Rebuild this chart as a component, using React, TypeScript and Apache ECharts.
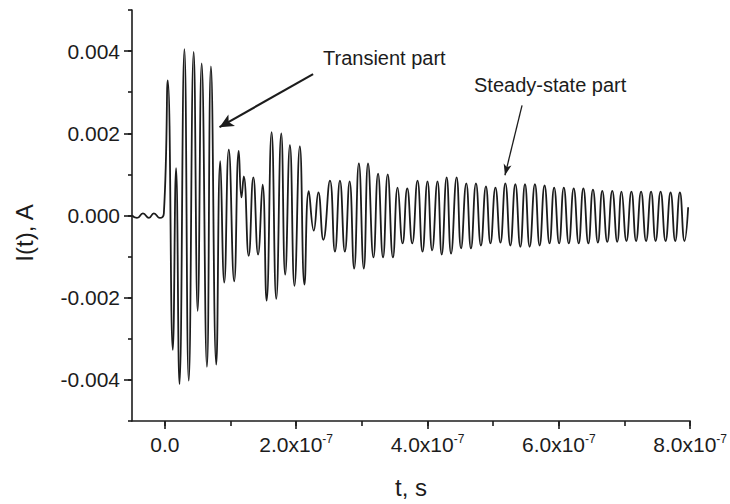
import React, { useEffect, useRef } from "react";
import * as echarts from "echarts";

// time in ns, current in A (extrema)
const timeNs = [
  -50, -42.4, -33.3, -24.2, -16.7, -7.6, -1.5, 4.5, 12.1, 17.1, 22.3, 29.8, 36.4, 43.9, 50.0, 56.1,
  64.1, 70.2, 78.3, 84.4, 90.5, 97.4, 105.6, 112.6, 116.7, 120.2, 127.7, 134.8, 142.0, 148.9, 155.0,
  162.6, 169.7, 177.3, 183.3, 190.5, 197.4, 205.6, 212.6, 219.2, 226.8, 233.8, 241.4, 251.5, 259.1,
  266.7, 274.2, 281.4, 288.3, 295.5, 303.0, 309.5, 317.7, 324.7, 332.3, 339.4, 347.4, 354.5, 362.1,
  369.2, 376.8, 384.8, 392.4, 400.0, 407.1, 415.2, 421.7, 429.2, 435.9, 444.4, 451.1, 459.1, 466.2,
  473.8, 481.4, 489.0, 495.9, 503.5, 511.1, 518.6, 526.2, 533.8, 541.4, 548.5, 555.6, 563.6, 570.8,
  578.3, 585.9, 592.9, 600.5, 607.6, 615.2, 622.7, 630.3, 637.4, 645.0, 652.0, 659.5, 666.2, 673.8,
  681.4, 689.0, 695.5, 703.0, 710.6, 717.7, 725.3, 732.9, 740.5, 747.4, 755.0, 762.6, 770.2, 777.3,
  784.4, 791.4, 797.0,
];
const currentA = [
  0, -0.00006, 0.00005, -0.00006, 0.00005, -0.00006, 0.00005, 0.00329, -0.00327, 0.00115, -0.0041,
  0.00405, -0.00402, 0.00398, -0.00232, 0.0037, -0.00368, 0.00363, -0.00363, 0.00132, -0.00163,
  0.0016, -0.0016, 0.00157, 0.00044, 0.00095, -0.00098, 0.00093, -0.00095, 0.00075, -0.00207,
  0.00203, -0.00203, 0.002, -0.00144, 0.00171, -0.00171, 0.00168, -0.00168, 0.00059, -0.00037,
  0.00056, -0.00059, 0.00085, -0.00088, 0.00085, -0.00088, 0.00083, -0.00129, 0.00127, -0.00129,
  0.00127, -0.00102, 0.00102, -0.00102, 0.001, -0.00102, 0.00068, -0.00068, 0.00066, -0.00068,
  0.00085, -0.00088, 0.00083, -0.00085, 0.00083, -0.00095, 0.00093, -0.00093, 0.00093, -0.0008,
  0.00078, -0.0008, 0.00078, -0.00073, 0.00071, -0.00068, 0.00068, -0.00066, 0.00078, -0.00073,
  0.00076, -0.00076, 0.00076, -0.00076, 0.00076, -0.00073, 0.00073, -0.00068, 0.00068, -0.00068,
  0.00068, -0.00068, 0.00066, -0.00068, 0.00066, -0.00068, 0.00063, -0.00066, 0.0006, -0.00064,
  0.0006, -0.00064, 0.00058, -0.00062, 0.00058, -0.00062, 0.00058, -0.00062, 0.00058, -0.00062,
  0.00058, -0.00062, 0.00056, -0.00062, 0.00056, -0.00062, 0.0002,
];

const xMin = -50;
const xMax = 800;
const xTickValues = [0, 100, 200, 300, 400, 500, 600, 700, 800];
const xLabelValues = [0, 200, 400, 600, 800];
const yMin = -0.005;
const yMax = 0.005;
const yLabelValues = [-0.004, -0.002, 0, 0.002, 0.004];

const xTitle = "t, s";
const yTitle = "I(t), A";
const transientLabel = "Transient part";
const steadyLabel = "Steady-state part";
// arrows in data coordinates [t (ns), I (A)]
const transientArrow = [[225.8, 0.00344], [83.3, 0.00215]];
const steadyArrow = [[544, 0.00268], [518, 0.00098]];

const FONT = "'Liberation Sans', Arial, Helvetica, sans-serif";
const INK = "#1c1c1c";

export default function App() {
  const ref = useRef<HTMLDivElement>(null);
  useEffect(() => {
    if (!ref.current) return;
    const chart = echarts.init(ref.current, undefined, { renderer: "svg" });
    const baseAxis = {
      type: "value" as const,
      splitLine: { show: false },
    };
    chart.setOption({
      animation: false,
      backgroundColor: "#ffffff",
      textStyle: { fontFamily: FONT },
      grid: { left: 132, right: 38, top: 10, bottom: 83, containLabel: false },
      xAxis: [
        {
          ...baseAxis,
          min: xMin,
          max: xMax,
          position: "bottom",
          axisLine: { show: true, onZero: false, lineStyle: { color: INK, width: 1.6 } },
          axisTick: { show: true, customValues: xTickValues, length: 5, lineStyle: { color: INK, width: 1.6 } },
          axisLabel: {
            show: true,
            customValues: xLabelValues,
            margin: 12,
            color: INK,
            formatter: (v: number) =>
              v === 0 ? "{b|0.0}" : `{b|${(v / 100).toFixed(1)}x10}{s|-7}`,
            rich: {
              b: { fontSize: 21, fontFamily: FONT, color: INK, lineHeight: 22 },
              s: { fontSize: 12, fontFamily: FONT, color: INK, lineHeight: 12, verticalAlign: "top", padding: [0, 0, 12, 0] },
            },
          },
          name: xTitle,
          nameLocation: "middle",
          nameGap: 54,
          nameTextStyle: { fontSize: 24, color: INK, fontFamily: FONT },
        },
        {
          ...baseAxis,
          min: xMin,
          max: xMax,
          position: "bottom",
          axisLine: { show: false, onZero: false },
          axisTick: { show: true, customValues: xLabelValues, length: 8, lineStyle: { color: INK, width: 1.6 } },
          axisLabel: { show: false },
        },
      ],
      yAxis: [
        {
          ...baseAxis,
          min: yMin,
          max: yMax,
          interval: 0.001,
          position: "left",
          axisLine: { show: true, onZero: false, lineStyle: { color: INK, width: 1.6 } },
          axisTick: { show: true, length: 4, lineStyle: { color: INK, width: 1.6 } },
          axisLabel: {
            show: true,
            customValues: yLabelValues,
            margin: 12,
            color: INK,
            fontSize: 21,
            fontFamily: FONT,
            formatter: (v: number) => v.toFixed(3),
          },
        },
        {
          ...baseAxis,
          min: yMin,
          max: yMax,
          position: "left",
          axisLine: { show: false, onZero: false },
          axisTick: { show: true, customValues: yLabelValues, length: 8, lineStyle: { color: INK, width: 1.6 } },
          axisLabel: { show: false },
        },
      ],
      series: [
        {
          type: "line",
          xAxisIndex: 0,
          yAxisIndex: 0,
          data: timeNs.map((t, i) => [t, currentA[i]]),
          smooth: 0.5,
          symbol: "none",
          lineStyle: { color: INK, width: 1.8 },
          markLine: {
            silent: true,
            animation: false,
            label: { show: false },
            lineStyle: { color: INK, type: "solid" },
            data: [
              [
                { coord: transientArrow[0], symbol: "none", lineStyle: { width: 2.2, color: INK } },
                { coord: transientArrow[1], symbol: "arrow", symbolSize: [10, 14] },
              ],
              [
                { coord: steadyArrow[0], symbol: "none", lineStyle: { width: 1.3, color: INK } },
                { coord: steadyArrow[1], symbol: "arrow", symbolSize: [6, 11] },
              ],
            ],
          },
        },
      ],
      graphic: [
        {
          type: "text",
          x: 323,
          y: 58,
          style: { text: transientLabel, fontSize: 20, fontFamily: FONT, fill: INK, textVerticalAlign: "middle" },
        },
        {
          type: "text",
          x: 474,
          y: 85,
          style: { text: steadyLabel, fontSize: 20, fontFamily: FONT, fill: INK, textVerticalAlign: "middle" },
        },
        {
          type: "text",
          x: 24,
          y: 233,
          rotation: Math.PI / 2,
          style: { text: yTitle, fontSize: 24, fontFamily: FONT, fill: INK, textAlign: "center", textVerticalAlign: "middle" },
        },
      ],
    });
    return () => chart.dispose();
  }, []);
  return (
    <div
      ref={ref}
      style={{ position: "absolute", left: 0, top: 0, width: 730, height: 504 }}
    />
  );
}
